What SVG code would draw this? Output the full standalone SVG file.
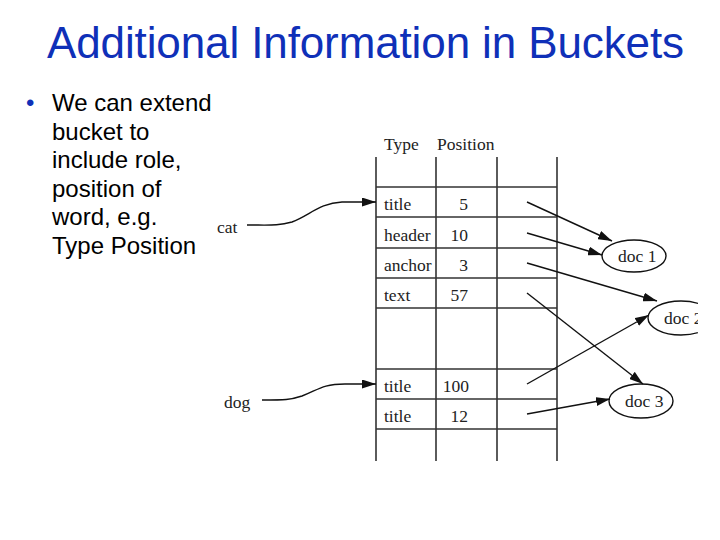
<svg xmlns="http://www.w3.org/2000/svg" width="720" height="540" viewBox="0 0 720 540">
<style>
.title{font-family:"Liberation Sans",Arial,sans-serif;font-size:44px;fill:#0f30b8}
.body{font-family:"Liberation Sans",Arial,sans-serif;font-size:24px;fill:#000}
.dot{font-family:"Liberation Sans",Arial,sans-serif;font-size:24px;fill:#0f30b8}
.t{font-family:"Liberation Serif","DejaVu Serif",serif;font-size:17.5px;fill:#222}
.grid line{stroke:#333;stroke-width:1.6}
.edge{fill:none;stroke:#111;stroke-width:1.4;marker-end:url(#ah)}
.node ellipse{fill:#fff;stroke:#111;stroke-width:1.4}
</style>
<defs>
<marker id="ah" viewBox="0 0 14 9" refX="14" refY="4.5" markerWidth="14" markerHeight="9" markerUnits="userSpaceOnUse" orient="auto">
<path d="M0,0 L14,4.5 L0,9 z" fill="#111"/>
</marker>
<clipPath id="clip"><rect x="0" y="0" width="698" height="540"/></clipPath>
</defs>
<rect width="720" height="540" fill="#fff"/>
<text class="title" x="47" y="58" textLength="637">Additional Information in Buckets</text>
<g id="bullet">
<text class="dot" x="26" y="111">•</text>
<text class="body" x="52" y="111">We can extend</text>
<text class="body" x="52" y="140">bucket to</text>
<text class="body" x="52" y="168">include role,</text>
<text class="body" x="52" y="197">position of</text>
<text class="body" x="52" y="225">word, e.g.</text>
<text class="body" x="52" y="254">Type Position</text>
</g>
<g id="table">
<g class="grid">
<line x1="376" y1="157" x2="376" y2="461"/>
<line x1="436" y1="157" x2="436" y2="461"/>
<line x1="497" y1="157" x2="497" y2="461"/>
<line x1="557" y1="157" x2="557" y2="461"/>
<line x1="376" y1="187" x2="557" y2="187"/>
<line x1="376" y1="217" x2="557" y2="217"/>
<line x1="376" y1="248" x2="557" y2="248"/>
<line x1="376" y1="278" x2="557" y2="278"/>
<line x1="376" y1="308" x2="557" y2="308"/>
<line x1="376" y1="369" x2="557" y2="369"/>
<line x1="376" y1="399" x2="557" y2="399"/>
<line x1="376" y1="429" x2="557" y2="429"/>
</g>
<text class="t" x="384" y="150">Type</text>
<text class="t" x="437" y="150">Position</text>
<text class="t" x="384" y="210">title</text>
<text class="t" x="384" y="241">header</text>
<text class="t" x="384" y="271">anchor</text>
<text class="t" x="384" y="301">text</text>
<text class="t" x="384" y="392">title</text>
<text class="t" x="384" y="422">title</text>
<g text-anchor="end">
<text class="t" x="468" y="210">5</text>
<text class="t" x="468" y="241">10</text>
<text class="t" x="468" y="271">3</text>
<text class="t" x="468" y="301">57</text>
<text class="t" x="469" y="392">100</text>
<text class="t" x="468" y="422">12</text>
</g>
</g>
<g id="cat"><text class="t" x="217" y="233">cat</text></g>
<g id="dog"><text class="t" x="224" y="408">dog</text></g>
<g id="doc1" class="node"><ellipse cx="634" cy="256" rx="32" ry="16"/><text class="t" x="618" y="262">doc 1</text></g>
<g id="doc2" class="node" clip-path="url(#clip)"><ellipse cx="681" cy="318" rx="33" ry="17"/><text class="t" x="664" y="324">doc 2</text></g>
<g id="doc3" class="node"><ellipse cx="641" cy="401" rx="32" ry="17"/><text class="t" x="625" y="407">doc 3</text></g>
<g id="connectors">
<path class="edge" d="M247,225 C270,225 278,226 292,222 C310,215 320,203 342,202 L376,202"/>
<path class="edge" d="M262,400 C285,400 290,400 302,396 C318,390 322,384 345,384 L376,384"/>
<path class="edge" d="M527,202 L612,241"/>
<path class="edge" d="M527,233 L602,255"/>
<path class="edge" d="M527,263 L657,301"/>
<path class="edge" d="M527,293 L643,384"/>
<path class="edge" d="M527,384 L649,315"/>
<path class="edge" d="M527,414 L610,399"/>
</g>
</svg>
